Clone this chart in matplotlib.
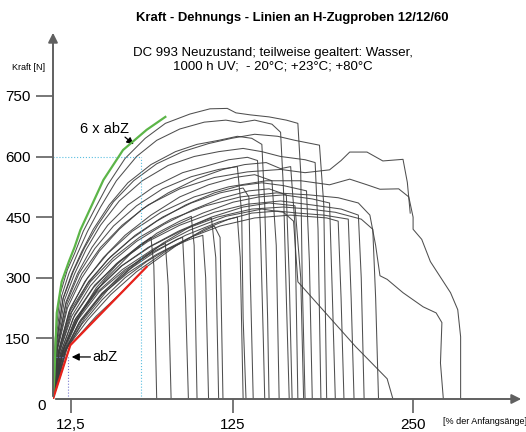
import matplotlib
matplotlib.use('Agg')
import matplotlib.pyplot as plt

plt.rcParams['font.family'] = ['Liberation Sans', 'DejaVu Sans']

# force / elongation curves (x in %, y in N)
curve_01 = [(0, 0), (1.5, 150), (5, 260), (10, 320), (15, 360), (21, 415), (29, 470), (38, 530), (50, 595), (64, 645), (78, 682), (95, 705), (109, 718), (121, 719), (127, 708), (137, 703), (150, 698), (162, 690), (170, 682), (172, 560), (173, 300), (175, 0)]
curve_02 = [(0, 0), (1.8, 140), (6, 255), (11, 310), (17, 360), (24, 415), (33, 475), (44, 540), (58, 600), (72, 640), (88, 668), (105, 685), (120, 690), (130, 684), (140, 690), (152, 680), (158, 660), (160, 520), (162, 250), (164, 0)]
curve_03 = [(0, 0), (2, 130), (7, 250), (13, 310), (20, 365), (28, 420), (39, 480), (52, 535), (68, 580), (85, 612), (100, 630), (115, 640), (128, 650), (138, 645), (145, 630), (147, 480), (149, 200), (150, 0)]
curve_04 = [(0, 0), (2.5, 130), (8, 245), (15, 310), (23, 370), (33, 430), (46, 490), (62, 540), (80, 578), (98, 600), (115, 612), (132, 620), (145, 612), (158, 600), (175, 592), (182, 585), (184, 420), (186, 0)]
curve_05 = [(0, 0), (3, 130), (9, 240), (17, 310), (27, 375), (38, 430), (52, 480), (70, 525), (90, 560), (108, 578), (122, 592), (135, 598), (142, 590), (144, 420), (146, 150), (147, 0)]
curve_06 = [(0, 0), (3, 120), (10, 225), (20, 300), (32, 365), (46, 420), (62, 470), (80, 510), (100, 545), (118, 568), (133, 580), (148, 585), (158, 570), (165, 575), (168, 430), (170, 0)]
curve_07 = [(0, 0), (3.5, 115), (11, 215), (22, 290), (35, 350), (50, 405), (68, 455), (88, 500), (108, 530), (126, 548), (140, 555), (152, 540), (155, 380), (157, 0)]
curve_08 = [(0, 0), (4, 115), (12, 210), (24, 285), (38, 345), (54, 395), (72, 440), (92, 480), (112, 510), (130, 528), (145, 535), (160, 528), (176, 515), (178, 340), (180, 0)]
curve_09 = [(0, 0), (4, 110), (13, 205), (26, 280), (41, 340), (58, 390), (77, 432), (97, 468), (117, 497), (136, 515), (150, 520), (162, 505), (164, 300), (166, 0)]
curve_10 = [(0, 0), (5, 110), (14, 200), (28, 275), (44, 335), (62, 385), (82, 425), (104, 460), (125, 487), (143, 500), (160, 505), (180, 495), (192, 485), (194, 250), (196, 0)]
curve_11 = [(0, 0), (5, 105), (15, 195), (30, 270), (47, 328), (66, 375), (87, 415), (110, 450), (132, 475), (150, 485), (168, 478), (172, 300), (174, 0)]
curve_12 = [(0, 0), (6, 105), (17, 195), (32, 265), (50, 320), (70, 365), (92, 405), (115, 438), (138, 460), (156, 465), (170, 460), (188, 455), (205, 445), (207, 250), (209, 0)]
curve_13 = [(0, 0), (8, 115), (20, 185), (34, 245), (50, 300), (65, 340), (80, 372), (95, 395), (104, 405), (106, 300), (108, 0)]
curve_14 = [(0, 0), (9, 125), (20, 195), (34, 260), (48, 310), (62, 350), (74, 378), (78, 385), (80, 280), (82, 0)]
curve_15 = [(0, 0), (7, 120), (17, 200), (30, 275), (45, 335), (60, 380), (68, 400), (70, 330), (72, 0)]
curve_16 = [(0, 0), (10, 128), (24, 195), (40, 258), (58, 315), (78, 365), (98, 405), (112, 428), (116, 400), (118, 0)]
curve_17 = [(0, 0), (12, 133), (30, 205), (48, 265), (65, 327), (85, 378), (105, 420), (122, 445), (128, 450), (130, 350), (132, 0)]
curve_18 = [(0, 0), (8, 130), (20, 215), (36, 295), (54, 360), (72, 410), (88, 440), (96, 452), (98, 380), (100, 0)]
curve_19 = [(0, 0), (9, 122), (22, 200), (38, 270), (56, 330), (76, 385), (96, 428), (110, 448), (113, 350), (115, 0)]
curve_20 = [(0, 0), (3, 125), (10, 235), (20, 310), (33, 375), (48, 430), (66, 480), (88, 520), (112, 548), (135, 562), (158, 568), (175, 560), (192, 567), (200, 590), (206, 611), (218, 611), (229, 589), (243, 593), (246, 536), (248, 460)]
curve_21 = [(0, 0), (4, 120), (12, 225), (24, 300), (38, 360), (55, 415), (75, 462), (98, 500), (122, 525), (148, 540), (172, 540), (192, 530), (206, 544), (218, 530), (227, 519), (240, 520), (247, 500), (250, 450), (250, 420), (256, 395), (262, 340), (276, 263), (281, 221), (283, 154), (283, 0)]
curve_22 = [(0, 0), (4.5, 115), (13, 215), (26, 290), (42, 350), (60, 400), (82, 445), (106, 478), (130, 500), (155, 510), (178, 505), (198, 498), (212, 485), (220, 455), (224, 380), (227, 305), (232, 296), (243, 263), (257, 228), (266, 213), (270, 189), (269, 89), (271, 0)]
curve_23 = [(0, 0), (5, 112), (15, 208), (29, 282), (46, 340), (66, 390), (88, 430), (112, 462), (135, 482), (158, 490), (180, 480), (200, 470), (212, 455), (214, 300), (216, 0)]
curve_24 = [(0, 0), (5.5, 108), (16, 200), (31, 272), (48, 330), (68, 378), (90, 418), (114, 450), (138, 470), (160, 475), (178, 470), (196, 462), (214, 445), (222, 420), (224, 250), (226, 0)]
curve_25 = [(0, 0), (6, 110), (16, 195), (30, 262), (48, 320), (70, 372), (95, 418), (120, 452), (145, 470), (160, 462), (167, 440), (170, 290), (190, 210), (210, 130), (232, 50), (236, 0)]
curve_26 = [(0, 0), (4, 118), (12, 218), (25, 292), (40, 352), (57, 405), (76, 450), (96, 485), (116, 510), (132, 522), (136, 500), (137, 300), (139, 0)]
curve_27 = [(0, 0), (3, 128), (9, 235), (18, 310), (29, 372), (42, 428), (58, 478), (76, 520), (96, 550), (115, 568), (128, 575), (131, 460), (132, 200), (134, 0)]
curve_28 = [(0, 0), (2.2, 135), (7, 248), (14, 315), (22, 375), (31, 430), (42, 488), (56, 540), (72, 582), (90, 612), (108, 632), (124, 645), (140, 655), (156, 650), (168, 640), (185, 628), (188, 480), (190, 0)]
curve_29 = [(0, 0), (6, 100), (18, 188), (34, 258), (52, 312), (72, 358), (94, 398), (116, 428), (140, 448), (165, 455), (190, 448), (198, 440), (200, 250), (202, 0)]
curve_30 = [(0, 0), (7, 112), (19, 195), (34, 262), (52, 318), (70, 362), (86, 395), (90, 400), (92, 250), (94, 0)]

curves = [curve_01, curve_02, curve_03, curve_04, curve_05, curve_06, curve_07, curve_08,
          curve_09, curve_10, curve_11, curve_12, curve_13, curve_14, curve_15, curve_16,
          curve_17, curve_18, curve_19, curve_20, curve_21, curve_22, curve_23, curve_24,
          curve_25, curve_26, curve_27, curve_28, curve_29, curve_30]

# envelope lines
green_x = [0, 1, 2.6, 6, 11, 15, 19, 27, 35, 48.6, 65, 78]
green_y = [0, 60, 213, 290, 340, 376, 418, 480, 542, 616, 666, 698]
red_x = [0, 12, 65]
red_y = [0, 133, 327]

y_ticks = [150, 300, 450, 600, 750]
x_ticks = [12.5, 125, 250]
x_labels = ['12,5', '125', '250']

fig = plt.figure(figsize=(5.26, 4.32), dpi=100)
ax = fig.add_axes([53 / 526, 33 / 432, 471 / 526, 369 / 432])
ax.set_xlim(0, 327)
ax.set_ylim(0, 913)

for c in curves:
    xs = [p[0] for p in c]
    ys = [p[1] for p in c]
    ax.plot(xs, ys, color='#3c3c3c', lw=0.75, alpha=0.9)

ax.plot(green_x, green_y, color='#5cb548', lw=1.6, zorder=5)
ax.plot(red_x, red_y, color='#e8231c', lw=1.6, zorder=5)

# dotted guide lines
ax.plot([0, 61], [600, 600], color='#5bbfe0', lw=0.8, ls=':', zorder=4)
ax.plot([61, 61], [0, 600], color='#5bbfe0', lw=0.8, ls=':', zorder=4)
ax.plot([0, 10.4], [104, 104], color='#7a7ad0', lw=0.8, ls=':', zorder=4)
ax.plot([10.4, 10.4], [0, 104], color='#7a7ad0', lw=0.8, ls=':', zorder=4)

# axes with arrows
for s in ax.spines.values():
    s.set_visible(False)
ax.annotate('', xy=(1, 0), xytext=(0, 0), xycoords='axes fraction',
            arrowprops=dict(arrowstyle='-|>', color='#606060', lw=1.4, mutation_scale=14), zorder=6)
ax.annotate('', xy=(0, 1), xytext=(0, 0), xycoords='axes fraction',
            arrowprops=dict(arrowstyle='-|>', color='#606060', lw=1.4, mutation_scale=14), zorder=6)

ax.set_yticks(y_ticks)
ax.set_yticklabels([str(v) for v in y_ticks])
ax.set_xticks(x_ticks)
ax.set_xticklabels(x_labels)
ax.tick_params(axis='y', length=12, width=1.2, color='#606060', labelsize=11, pad=4)
ax.tick_params(axis='x', length=10, width=1.2, color='#606060', labelsize=11, pad=4)
ax.annotate('0', xy=(0, 0), xytext=(-5, -5), textcoords='offset points',
            ha='right', va='center', fontsize=11)

# annotations
ax.text(27, 104, 'abZ', fontsize=10.5, va='center')
ax.annotate('', xy=(13, 104), xytext=(26, 104),
            arrowprops=dict(arrowstyle='-|>', color='black', lw=0.9, mutation_scale=11,
                            shrinkA=0, shrinkB=0))
ax.text(36, 668, '6 x abZ', fontsize=10.5, ha='center', va='center')
ax.annotate('', xy=(56, 630), xytext=(50, 648),
            arrowprops=dict(arrowstyle='-|>', color='black', lw=0.9, mutation_scale=10,
                            shrinkA=0, shrinkB=0))

fig.text(292 / 526, 1 - 18 / 432, 'Kraft - Dehnungs - Linien an H-Zugproben 12/12/60',
         ha='center', va='center', fontsize=9.4, fontweight='bold')
fig.text(273 / 526, 1 - 60 / 432, 'DC 993 Neuzustand; teilweise gealtert: Wasser,\n1000 h UV;  - 20°C; +23°C; +80°C',
         ha='center', va='center', fontsize=9.5, linespacing=1.15)
fig.text(12 / 526, 1 - 67 / 432, 'Kraft [N]', ha='left', va='center', fontsize=6.5)
fig.text(443 / 526, 1 - 422 / 432, '[% der Anfangsänge]', ha='left', va='center', fontsize=6.5)

plt.savefig('out.png', dpi=100)
